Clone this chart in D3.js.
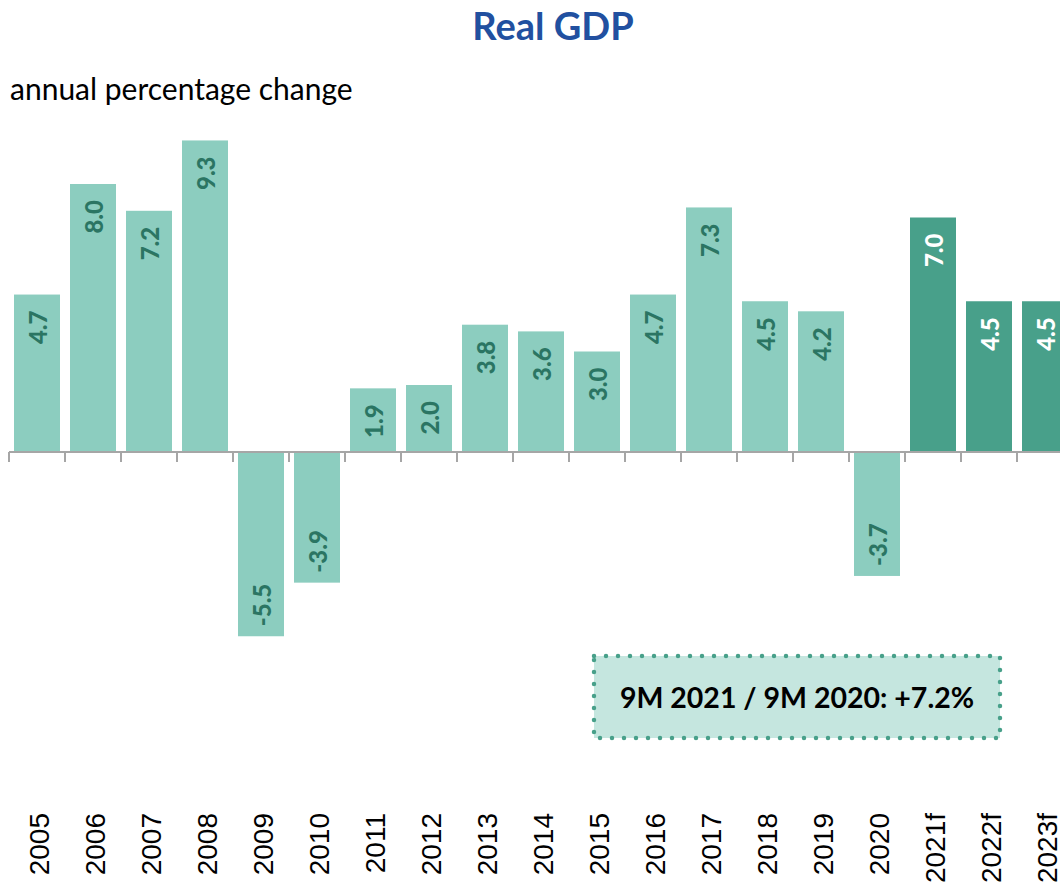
<!DOCTYPE html>
<html>
<head>
<meta charset="utf-8">
<script src="https://cdn.jsdelivr.net/npm/d3@7"></script>
<style>
  body { margin: 0; background: #fff; }
  svg { display: block; }
</style>
</head>
<body>
<div class="graph"></div>
<script>
// data
const years = ["2005", "2006", "2007", "2008", "2009", "2010", "2011", "2012", "2013", "2014",
  "2015", "2016", "2017", "2018", "2019", "2020", "2021f", "2022f", "2023f"];
const gdp = [4.7, 8.0, 7.2, 9.3, -5.5, -3.9, 1.9, 2.0, 3.8, 3.6, 3.0, 4.7, 7.3, 4.5, 4.2, -3.7, 7.0, 4.5, 4.5];
const forecast = [false, false, false, false, false, false, false, false, false, false,
  false, false, false, false, false, false, true, true, true];
const noteText = "9M 2021 / 9M 2020: +7.2%";

function main() {
  //setting
  const width = 1060;
  const height = 886;
  const lightColor = "#8ccdbf";
  const darkColor = "#48a08a";
  const font = "Lato, 'Open Sans', sans-serif";
  const dataset = years.map((y, i) => ({ year: y, value: gdp[i], f: forecast[i] }));

  //scales
  const xScale = d3
    .scaleBand()
    .domain(years)
    .range([9, 9 + 56 * years.length])
    .paddingInner(10 / 56)
    .paddingOuter(5 / 56);
  const yScale = d3.scaleLinear().domain([-10, 10]).range([787, 117]);

  const svg = d3
    .select(".graph")
    .append("svg")
    .attr("width", width)
    .attr("height", height);

  //title
  svg
    .append("text")
    .attr("x", 553)
    .attr("y", 40)
    .attr("text-anchor", "middle")
    .style("font-family", font)
    .style("font-weight", "bold")
    .style("font-size", "38px")
    .style("fill", "#2150a0")
    .text("Real GDP");

  svg
    .append("text")
    .attr("x", 10)
    .attr("y", 100)
    .style("font-family", font)
    .style("font-size", "30px")
    .style("fill", "#000")
    .text("annual percentage change");

  //bars
  svg
    .selectAll("rect.bar")
    .data(dataset)
    .enter()
    .append("rect")
    .attr("class", "bar")
    .attr("x", d => xScale(d.year))
    .attr("y", d => yScale(Math.max(0, d.value)))
    .attr("width", xScale.bandwidth())
    .attr("height", d => Math.abs(yScale(d.value) - yScale(0)))
    .style("fill", d => (d.f ? darkColor : lightColor));

  //axis line + ticks at category boundaries
  const step = xScale.step();
  const bounds = d3.range(years.length + 1).map(i => 9 + i * step);
  const axis = svg.append("g").attr("class", "x-axis");
  axis
    .append("line")
    .attr("x1", bounds[0])
    .attr("x2", bounds[bounds.length - 1])
    .attr("y1", yScale(0))
    .attr("y2", yScale(0))
    .style("stroke", "#a6a6a6")
    .style("stroke-width", 2);
  axis
    .selectAll("line.tick")
    .data(bounds)
    .enter()
    .append("line")
    .attr("class", "tick")
    .attr("x1", d => d)
    .attr("x2", d => d)
    .attr("y1", yScale(0))
    .attr("y2", yScale(0) + 10)
    .style("stroke", "#a6a6a6")
    .style("stroke-width", 2);

  //category labels
  svg
    .selectAll("text.cat")
    .data(years)
    .enter()
    .append("text")
    .attr("class", "cat")
    .attr("transform", d => `translate(${xScale(d) + xScale.bandwidth() / 2 + 2},813) rotate(-90)`)
    .attr("text-anchor", "end")
    .attr("dy", "0.36em")
    .style("font-family", "'Liberation Sans', Arial, sans-serif")
    .style("font-size", "28px")
    .style("fill", "#000")
    .text(d => d);

  //value labels
  svg
    .selectAll("text.val")
    .data(dataset)
    .enter()
    .append("text")
    .attr("class", "val")
    .attr("transform", d => {
      const cx = xScale(d.year) + xScale.bandwidth() / 2 + 1;
      const y = d.value >= 0 ? yScale(d.value) + 16 : yScale(d.value) - 10;
      return `translate(${cx},${y}) rotate(-90)`;
    })
    .attr("text-anchor", d => (d.value >= 0 ? "end" : "start"))
    .attr("dy", "0.36em")
    .style("font-family", font)
    .style("font-weight", "900")
    .style("font-size", "24px")
    .style("fill", d => (d.f ? "#ffffff" : "#2b7563"))
    .text(d => d.value.toFixed(1));

  //note box
  const note = svg.append("g");
  note
    .append("rect")
    .attr("x", 594)
    .attr("y", 656)
    .attr("width", 406)
    .attr("height", 82)
    .style("fill", "#c5e6df")
    .style("stroke", darkColor)
    .style("stroke-width", 4.5)
    .style("stroke-dasharray", "0 12")
    .style("stroke-linecap", "round");
  note
    .append("text")
    .attr("x", 797)
    .attr("y", 708)
    .attr("text-anchor", "middle")
    .style("font-family", font)
    .style("font-weight", "bold")
    .style("font-size", "28.5px")
    .style("fill", "#000")
    .text(noteText);
}

main();
</script>
</body>
</html>
